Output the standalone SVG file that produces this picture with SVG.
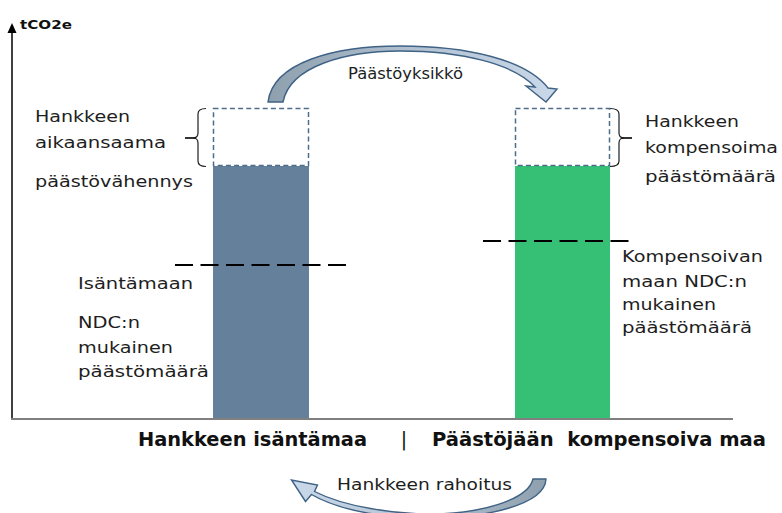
<svg xmlns="http://www.w3.org/2000/svg" width="782" height="513" viewBox="0 0 782 513">
<style>
  .lbl{font-family:"DejaVu Sans","Liberation Sans",sans-serif;font-size:15px;fill:#1e1e1e}
  .bold{font-family:"DejaVu Sans","Liberation Sans",sans-serif;font-size:19px;font-weight:bold;fill:#111}
  .ax{font-family:"DejaVu Sans","Liberation Sans",sans-serif;font-size:12px;font-weight:bold;fill:#111}
  .dbox{fill:none;stroke:#4d6c8b;stroke-width:1.5;stroke-dasharray:5,3.2}
  .brace{fill:none;stroke:#1e1e1e;stroke-width:1.2}
  .tick{stroke:#1e1e1e;stroke-width:1.8}
  .ndc{stroke:#000;stroke-width:2;stroke-dasharray:18,7.5}
  .arr{stroke:#3f6285;stroke-width:1.4;stroke-linejoin:miter}
</style>
<defs>
  <linearGradient id="gTop" x1="268" y1="0" x2="556" y2="0" gradientUnits="userSpaceOnUse">
    <stop offset="0" stop-color="#8e9fae"/>
    <stop offset="0.5" stop-color="#b1c1d1"/>
    <stop offset="1" stop-color="#c9d9e9"/>
  </linearGradient>
  <linearGradient id="gBot" x1="293" y1="0" x2="546" y2="0" gradientUnits="userSpaceOnUse">
    <stop offset="0" stop-color="#c9d9e9"/>
    <stop offset="0.5" stop-color="#b3c3d3"/>
    <stop offset="1" stop-color="#8e9fae"/>
  </linearGradient>
</defs>

<g id="axes">
  <line x1="12" y1="419" x2="12" y2="31" stroke="#000" stroke-width="1.5"/>
  <polygon points="12,23 7.5,33 16.5,33" fill="#000"/>
  <line x1="11" y1="419" x2="733" y2="419" stroke="#808080" stroke-width="2"/>
  <text class="ax" x="20" y="29" textLength="52" lengthAdjust="spacingAndGlyphs">tCO2e</text>
</g>

<g id="host-bar">
  <rect x="213" y="166" width="96" height="252" fill="#64809a"/>
  <rect class="dbox" x="213.5" y="108.5" width="95" height="57"/>
  <path class="brace" d="M206,108.5 Q198,108.5 198,114 L198,133 Q198,138 193,138 Q198,138 198,143 L198,161 Q198,166.5 206,166.5"/>
  <line class="tick" x1="185" y1="138" x2="196" y2="138"/>
  <line class="ndc" x1="175" y1="265" x2="351" y2="265"/>
</g>

<g id="comp-bar">
  <rect x="515" y="166" width="95" height="252" fill="#35c075"/>
  <rect class="dbox" x="515.5" y="108.5" width="94" height="57"/>
  <path class="brace" d="M610,108.5 Q619,108.5 619,114 L619,133 Q619,138 624,138 Q619,138 619,143 L619,161 Q619,166.5 610,166.5"/>
  <line class="tick" x1="621" y1="138" x2="632" y2="138"/>
  <line class="ndc" x1="483" y1="241" x2="632" y2="241"/>
</g>

<g id="host-labels">
  <text class="lbl" x="35" y="122" textLength="95" lengthAdjust="spacingAndGlyphs">Hankkeen</text>
  <text class="lbl" x="35" y="148" textLength="131" lengthAdjust="spacingAndGlyphs">aikaansaama</text>
  <text class="lbl" x="35" y="187" textLength="158" lengthAdjust="spacingAndGlyphs">päästövähennys</text>
  <text class="lbl" x="78" y="289" textLength="115" lengthAdjust="spacingAndGlyphs">Isäntämaan</text>
  <text class="lbl" x="78" y="328" textLength="62" lengthAdjust="spacingAndGlyphs">NDC:n</text>
  <text class="lbl" x="78" y="353" textLength="95" lengthAdjust="spacingAndGlyphs">mukainen</text>
  <text class="lbl" x="78" y="377" textLength="131" lengthAdjust="spacingAndGlyphs">päästömäärä</text>
</g>

<g id="comp-labels">
  <text class="lbl" x="645" y="127" textLength="94" lengthAdjust="spacingAndGlyphs">Hankkeen</text>
  <text class="lbl" x="645" y="153" textLength="133" lengthAdjust="spacingAndGlyphs">kompensoima</text>
  <text class="lbl" x="645" y="182" textLength="131" lengthAdjust="spacingAndGlyphs">päästömäärä</text>
  <text class="lbl" x="622" y="262" textLength="141" lengthAdjust="spacingAndGlyphs">Kompensoivan</text>
  <text class="lbl" x="622" y="287" textLength="125" lengthAdjust="spacingAndGlyphs">maan NDC:n</text>
  <text class="lbl" x="622" y="310" textLength="94" lengthAdjust="spacingAndGlyphs">mukainen</text>
  <text class="lbl" x="622" y="333" textLength="130" lengthAdjust="spacingAndGlyphs">päästömäärä</text>
</g>

<g id="country-labels">
  <text class="bold" x="138" y="446" textLength="229" lengthAdjust="spacingAndGlyphs">Hankkeen isäntämaa</text>
  <text class="bold" x="404" y="446" text-anchor="middle" style="font-weight:normal">|</text>
  <text class="bold" x="432" y="446" textLength="334" lengthAdjust="spacingAndGlyphs" xml:space="preserve">Päästöjään  kompensoiva maa</text>
</g>

<g id="connectors">
  <g id="emission-unit">
    <path class="arr" fill="url(#gTop)" d="M268,102 C273,62 335,46 400,46 C468,46 526,60 548,88 L557,89 L546,102 L526,86 L535,87 C514,64 462,51 400,51 C346,51 290,66 283,102 Z"/>
    <text class="lbl" x="348" y="79" textLength="115" lengthAdjust="spacingAndGlyphs">Päästöyksikkö</text>
  </g>
  <g id="financing">
    <path class="arr" fill="url(#gBot)" d="M311.5,494.5 L305.5,501.5 L291.5,480 L317.5,485 L314.5,491.5 C345,507 395,514 430,514 C480,514 528,500 533,479 L546,479 C545,505 485,518 430,518 C385,518 340,511 311.5,494.5 Z"/>
    <text class="lbl" x="337" y="490" textLength="175" lengthAdjust="spacingAndGlyphs">Hankkeen rahoitus</text>
  </g>
</g>
</svg>
